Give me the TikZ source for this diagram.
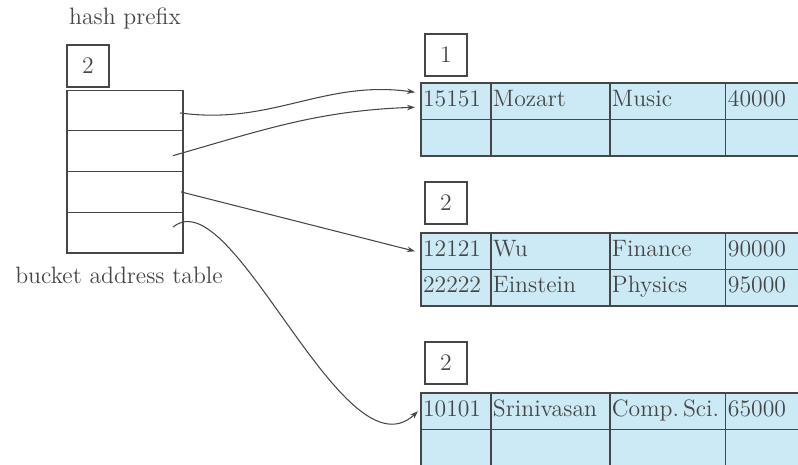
\documentclass[tikz,border=0pt]{standalone}
\usetikzlibrary{positioning,arrows.meta}
\definecolor{cellblue}{RGB}{204,234,246}
\definecolor{inkgray}{RGB}{70,70,70}

\begin{document}
\begin{tikzpicture}[x=0.02cm, y=-0.02cm, >={Stealth[length=0.16cm, width=0.11cm]}, line width=0.6pt, draw=inkgray, text=inkgray, font=\fontsize{13.5}{16}\selectfont]
\tikzset{
	prefixbox/.style={draw, minimum size=0.84cm, inner sep=0pt},
	slot/.style={draw, minimum width=2.32cm, minimum height=0.815cm, inner sep=0pt, outer sep=0pt},
	cell/.style={draw, fill=cellblue, minimum height=0.73cm, inner xsep=0.04cm, inner ysep=0pt, outer sep=0pt, align=left, text height=2.0ex, text depth=0.7ex},
	cola/.style={cell, text width=1.32cm},
	colb/.style={cell, text width=2.30cm},
	colc/.style={cell, text width=2.24cm},
	cold/.style={cell, text width=1.72cm}
}
\useasboundingbox (0,0) rectangle (798,464);
\clip (0,0) rectangle (798,464);

% bucket address table
\node (hp) at (125,18) {hash prefix};
\node[prefixbox] (gp) at (88,66) {2};
\node[slot] (s1) at (125,110.4) {};
\node[slot, below=0pt of s1] (s2) {};
\node[slot, below=0pt of s2] (s3) {};
\node[slot, below=0pt of s3] (s4) {};
\node (bat) at (119,275) {bucket address table};

% bucket 1
\node[prefixbox] (p1) at (446,55) {1};
\node[cola] (b1a) at (456,101.25) {15151};
\node[colb, right=0pt of b1a] (b1b) {Mozart};
\node[colc, right=0pt of b1b] (b1c) {Music};
\node[cold, right=0pt of b1c] (b1d) {40000};
\node[cola, below=0pt of b1a] (b1e) {};
\node[colb, right=0pt of b1e] (b1f) {};
\node[colc, right=0pt of b1f] (b1g) {};
\node[cold, right=0pt of b1g] (b1h) {};

% bucket 2
\node[prefixbox] (p2) at (446,203) {2};
\node[cola] (b2a) at (456,251.25) {12121};
\node[colb, right=0pt of b2a] (b2b) {Wu};
\node[colc, right=0pt of b2b] (b2c) {Finance};
\node[cold, right=0pt of b2c] (b2d) {90000};
\node[cola, below=0pt of b2a] (b2e) {22222};
\node[colb, right=0pt of b2e] (b2f) {Einstein};
\node[colc, right=0pt of b2f] (b2g) {Physics};
\node[cold, right=0pt of b2g] (b2h) {95000};

% bucket 3
\node[prefixbox] (p3) at (446,363) {2};
\node[cola] (b3a) at (456,411.25) {10101};
\node[colb, right=0pt of b3a] (b3b) {Srinivasan};
\node[colc, right=0pt of b3b] (b3c) {Comp.\,Sci.};
\node[cold, right=0pt of b3c] (b3d) {65000};
\node[cola, below=0pt of b3a] (b3e) {};
\node[colb, right=0pt of b3e] (b3f) {};
\node[colc, right=0pt of b3f] (b3g) {};
\node[cold, right=0pt of b3g] (b3h) {};

% pointers
\draw[->] ([shift={(-3,2.5)}]s1.east) to[out=-8, in=172] ([shift={(-6,-9)}]b1a.west);
\draw[->] ([shift={(-10,4.5)}]s2.east) to[out=16, in=182] ([shift={(-6,6)}]b1a.west);
\draw[->] ([shift={(-2,0)}]s3.east) -- ([shift={(-6,0)}]b2a.west);
\draw[->] ([shift={(-10,-5.5)}]s4.east) .. controls +(60,-50) and +(-75,70) .. ([shift={(-3,0)}]b3a.west);

\end{tikzpicture}
\end{document}
